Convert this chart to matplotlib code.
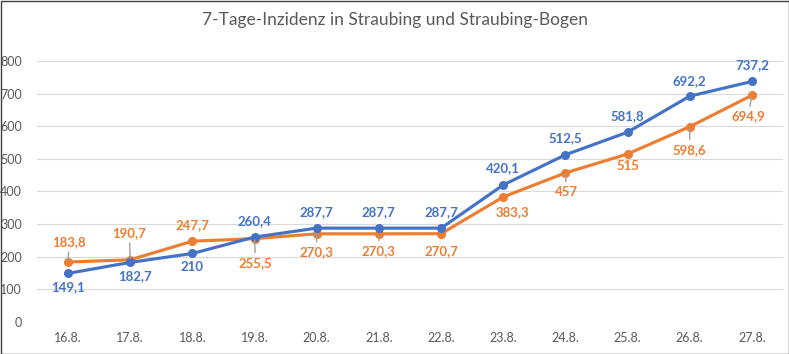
import matplotlib.pyplot as plt
from matplotlib.patches import Rectangle

plt.rcParams['font.family'] = ['Lato', 'DejaVu Sans']

dates = ['16.8.', '17.8.', '18.8.', '19.8.', '20.8.', '21.8.',
         '22.8.', '23.8.', '24.8.', '25.8.', '26.8.', '27.8.']
straubing = [149.1, 182.7, 210, 260.4, 287.7, 287.7,
             287.7, 420.1, 512.5, 581.8, 692.2, 737.2]
landkreis = [183.8, 190.7, 247.7, 255.5, 270.3, 270.3,
             270.7, 383.3, 457, 515, 598.6, 694.9]

# label offsets in pixels (dx, dy up-positive) and whether a leader line is drawn
blue_off = [(0, -14), (5, -14), (0, -14), (0, 16), (0, 16), (0, 16),
            (0, 16), (0, 17), (0, 17), (0, 16), (0, 15), (0, 16)]
orange_off = [(1, 20), (-1, 27), (0, 16), (1, -24), (0, -18), (0, -17),
              (0, -17), (9, -15), (1, -19), (0, -12), (0, -23), (-4, -21)]
orange_leader = [True, True, False, True, True, True,
                 False, False, True, False, True, True]

BLUE = '#4472C4'
ORANGE = '#ED7D31'
GREY = '#595959'

fig = plt.figure(figsize=(7.89, 3.54), dpi=100)
ax = fig.add_axes([37 / 789, 32 / 354, 746 / 789, 261 / 354])

x = list(range(len(dates)))
ax.plot(x, landkreis, color=ORANGE, lw=2.25, marker='o', ms=5.5, zorder=3)
ax.plot(x, straubing, color=BLUE, lw=2.25, marker='o', ms=5.5, zorder=4)


def fmt(v):
    s = ('%.1f' % v).rstrip('0').rstrip('.')
    return s.replace('.', ',')


for i, v in enumerate(straubing):
    dx, dy = blue_off[i]
    ax.annotate(fmt(v), (i, v), xytext=(dx, dy), textcoords='offset pixels',
                ha='center', va='center', color=BLUE, fontsize=9.5,
                fontweight='bold', zorder=5)

for i, v in enumerate(landkreis):
    dx, dy = orange_off[i]
    props = None
    if orange_leader[i]:
        props = dict(arrowstyle='-', color='#A0A0A0', lw=1.0,
                     shrinkA=1, shrinkB=1)
    ax.annotate(fmt(v), (i, v), xytext=(dx, dy), textcoords='offset pixels',
                ha='center', va='center', color=ORANGE, fontsize=9.5,
                fontweight='bold', arrowprops=props, zorder=5)

ax.set_xlim(-0.5, len(dates) - 0.5)
ax.set_ylim(0, 800)
ax.set_yticks(range(0, 801, 100))
ax.set_xticks(x)
ax.set_xticklabels(dates)
ax.grid(axis='y', color='#D9D9D9', lw=0.8)
ax.set_axisbelow(True)
for s in ax.spines.values():
    s.set_visible(False)
ax.tick_params(length=0, colors=GREY, labelsize=9)
ax.tick_params(axis='y', pad=11)
ax.tick_params(axis='x', pad=7)

fig.text(0.5, 1 - 20 / 354, '7-Tage-Inzidenz in Straubing und Straubing-Bogen',
         ha='center', va='center', fontsize=12.5, color=GREY)

fig.patches.append(Rectangle((0.5 / 789, 0.5 / 354), 1 - 1 / 789, 1 - 1 / 354,
                             transform=fig.transFigure, fill=False,
                             edgecolor='#404040', lw=1))

fig.savefig('out.png', dpi=100)
